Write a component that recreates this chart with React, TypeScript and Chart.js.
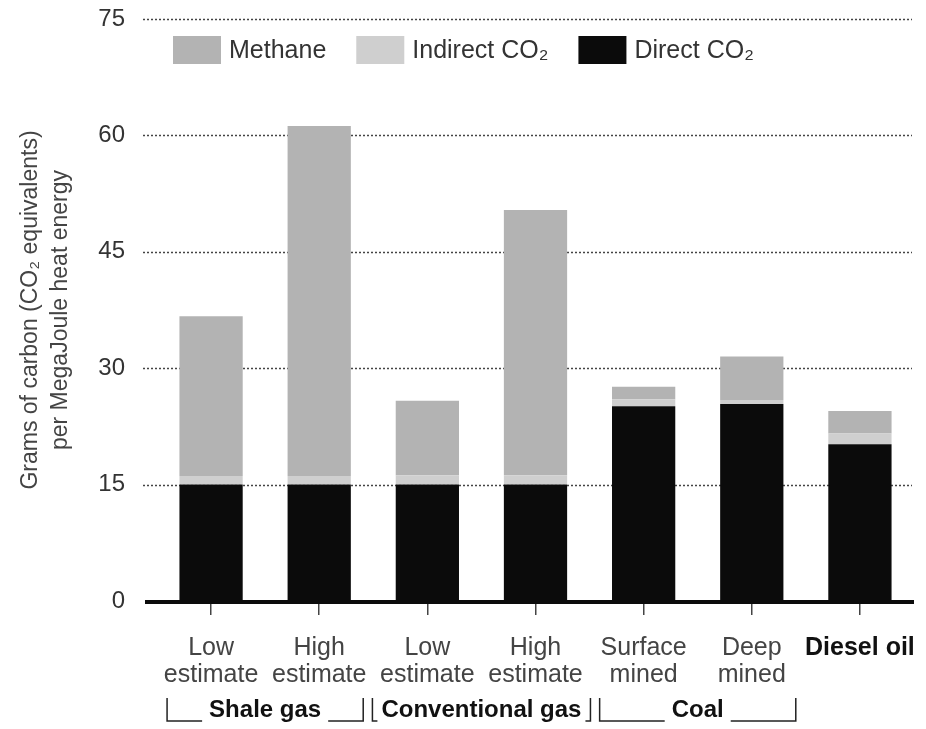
import React, { useEffect, useRef } from 'react';
import { Chart, registerables } from 'chart.js';

Chart.register(...registerables);

// ---- data ----
const categories: string[][] = [
  ['Low', 'estimate'],
  ['High', 'estimate'],
  ['Low', 'estimate'],
  ['High', 'estimate'],
  ['Surface', 'mined'],
  ['Deep', 'mined'],
  ['Diesel oil'],
];
const directCO2 = [15, 15, 15, 15, 25.1, 25.4, 20.2];
const indirectCO2 = [1.1, 1.1, 1.2, 1.2, 0.9, 0.5, 1.4];
const methane = [20.6, 45.1, 9.6, 34.2, 1.6, 5.6, 2.9];
const yTickValues = [0, 15, 30, 45, 60, 75];
const groupLabels = ['Shale gas', 'Conventional gas', 'Coal'];
const groupStart = [0, 2, 4];
const groupEnd = [1, 3, 5];
const boldCategory = 6;
const seriesLabels = ['Direct CO₂', 'Indirect CO₂', 'Methane'];
const yTitle = ['Grams of carbon (CO₂ equivalents)', 'per MegaJoule heat energy'];

const FONT = '"Liberation Sans", Arial, Helvetica, sans-serif';
const COLORS = ['#0b0b0b', '#cfcfcf', '#b3b3b3'];

const gridPlugin = {
  id: 'dottedGrid',
  beforeDatasetsDraw(chart: any) {
    const { ctx, chartArea } = chart;
    const y = chart.scales.y;
    ctx.save();
    ctx.strokeStyle = '#444';
    ctx.lineWidth = 1.5;
    ctx.setLineDash([2, 2]);
    y.ticks.forEach((t: any) => {
      if (t.value === 0) return;
      const py = Math.round(y.getPixelForValue(t.value)) + 0.5;
      ctx.beginPath();
      ctx.moveTo(chartArea.left - 14, py);
      ctx.lineTo(chartArea.right - 2, py);
      ctx.stroke();
    });
    ctx.restore();
  },
  afterDatasetsDraw(chart: any) {
    const { ctx, chartArea } = chart;
    const y0 = chart.scales.y.getPixelForValue(0);
    ctx.save();
    ctx.strokeStyle = '#0b0b0b';
    ctx.lineWidth = 4;
    ctx.beginPath();
    ctx.moveTo(chartArea.left - 12, y0 + 1);
    ctx.lineTo(chartArea.right, y0 + 1);
    ctx.stroke();
    ctx.restore();
  },
};

const legendPlugin = {
  id: 'insideLegend',
  afterDraw(chart: any) {
    const { ctx, chartArea } = chart;
    const items = chart.data.datasets
      .map((d: any) => ({ label: d.label, color: d.backgroundColor }))
      .reverse();
    const top = chartArea.top + 17;
    let x = chartArea.left + 16;
    ctx.save();
    ctx.font = `25px ${FONT}`;
    ctx.textBaseline = 'middle';
    ctx.textAlign = 'left';
    items.forEach((it: any) => {
      ctx.fillStyle = it.color;
      ctx.fillRect(x, top, 48, 28);
      x += 48 + 8;
      ctx.fillStyle = '#333';
      ctx.fillText(it.label, x, top + 15);
      x += ctx.measureText(it.label).width + 30;
    });
    ctx.restore();
  },
};

const groupPlugin = {
  id: 'groupBrackets',
  afterDraw(chart: any) {
    const { ctx, chartArea } = chart;
    const xs = chart.scales.x;
    const yTop = chartArea.bottom + 97;
    const yBot = chartArea.bottom + 120;
    const yText = chartArea.bottom + 109;
    ctx.save();
    ctx.font = `bold 24px ${FONT}`;
    ctx.textBaseline = 'middle';
    ctx.textAlign = 'center';
    ctx.strokeStyle = '#222';
    ctx.lineWidth = 1.5;
    groupLabels.forEach((lab, g) => {
      const c1 = xs.getPixelForValue(groupStart[g]);
      const c2 = xs.getPixelForValue(groupEnd[g]);
      const mid = (c1 + c2) / 2;
      const w = ctx.measureText(lab).width;
      const left = Math.min(c1 - 44, mid - w / 2 - 9);
      const right = Math.max(c2 + 44, mid + w / 2 + 9);
      ctx.fillStyle = '#111';
      ctx.fillText(lab, mid, yText);
      const lEnd = Math.max(left + 5, mid - w / 2 - 7);
      const rStart = Math.min(right - 5, mid + w / 2 + 7);
      ctx.beginPath();
      ctx.moveTo(left, yTop);
      ctx.lineTo(left, yBot);
      ctx.lineTo(lEnd, yBot);
      ctx.moveTo(right, yTop);
      ctx.lineTo(right, yBot);
      ctx.lineTo(rStart, yBot);
      ctx.stroke();
    });
    ctx.restore();
  },
};

export default function App() {
  const ref = useRef<HTMLCanvasElement | null>(null);

  useEffect(() => {
    if (!ref.current) return;
    const chart = new Chart(ref.current, {
      type: 'bar',
      data: {
        labels: categories as any,
        datasets: [
          { label: seriesLabels[0], data: directCO2, backgroundColor: COLORS[0] },
          { label: seriesLabels[1], data: indirectCO2, backgroundColor: COLORS[1] },
          { label: seriesLabels[2], data: methane, backgroundColor: COLORS[2] },
        ],
      },
      options: {
        animation: false,
        responsive: true,
        maintainAspectRatio: false,
        layout: { padding: { top: 19, right: 12, left: 0, bottom: 0 } },
        datasets: { bar: { categoryPercentage: 1, barPercentage: 0.585, borderWidth: 0 } } as any,
        plugins: {
          legend: { display: false },
          tooltip: { enabled: false },
          title: { display: false },
        },
        scales: {
          x: {
            stacked: true,
            offset: true,
            grid: {
              display: true,
              drawOnChartArea: false,
              drawTicks: true,
              tickLength: 14,
              color: '#444',
              lineWidth: 1.5,
              offset: false,
            },
            border: { display: false },
            ticks: {
              padding: 20,
              autoSkip: false,
              maxRotation: 0,
              color: (c: any) => (c.index === boldCategory ? '#111' : '#444'),
              font: (c: any) => ({
                size: 25,
                family: FONT,
                weight: c.index === boldCategory ? 'bold' : 'normal',
                lineHeight: 1.08,
              }),
            },
            afterFit: (s: any) => {
              s.height = 128;
              s.paddingLeft = 0;
              s.paddingRight = 0;
            },
          },
          y: {
            stacked: true,
            min: 0,
            max: 75,
            afterBuildTicks: (s: any) => {
              s.ticks = yTickValues.map((v) => ({ value: v }));
            },
            grid: { display: false, drawTicks: false },
            border: { display: false },
            ticks: { padding: 32, color: '#333', font: { size: 24, family: FONT } },
            title: {
              display: true,
              text: yTitle,
              color: '#444',
              font: { size: 23, family: FONT, lineHeight: 1.3 },
              padding: { top: 16, bottom: 0 },
            },
            afterFit: (s: any) => {
              s.width = 157;
              s.paddingTop = 0;
              s.paddingBottom = 0;
            },
          },
        },
      },
      plugins: [gridPlugin, legendPlugin, groupPlugin],
    });
    return () => chart.destroy();
  }, []);

  return (
    <div
      style={{
        position: 'fixed',
        left: 0,
        top: 0,
        width: 926,
        height: 729,
        background: '#fff',
      }}
    >
      <canvas ref={ref} />
    </div>
  );
}
